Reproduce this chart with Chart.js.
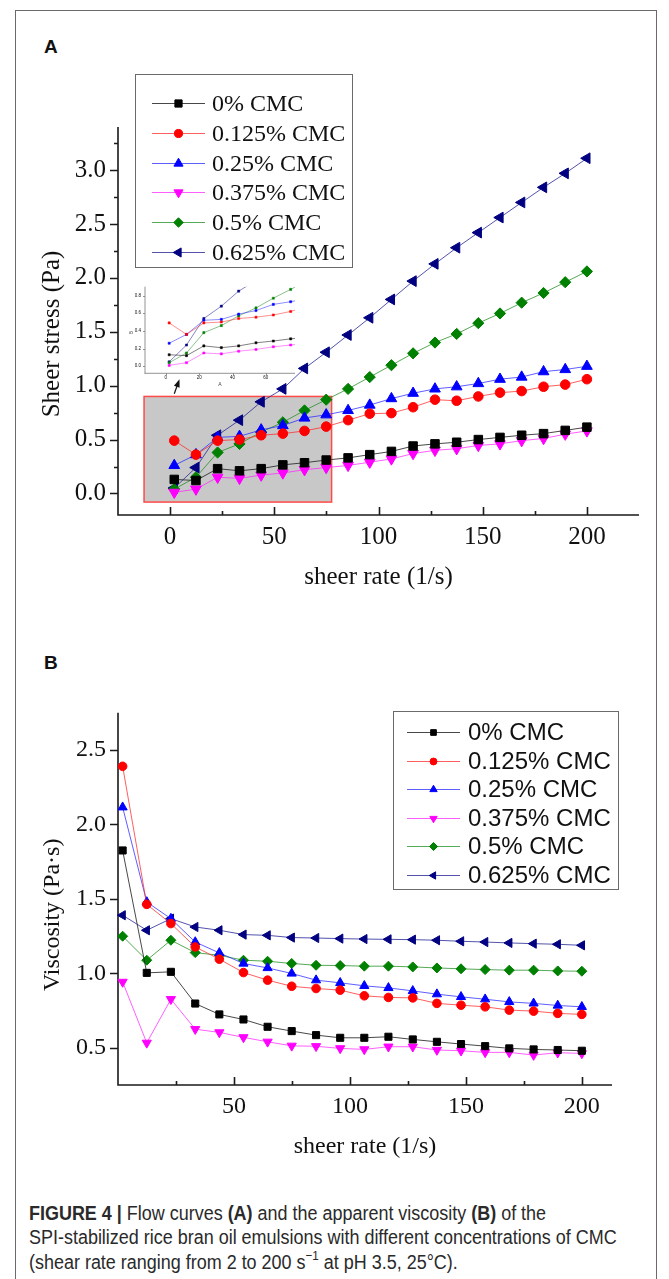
<!DOCTYPE html>
<html>
<head>
<meta charset="utf-8">
<title>Flow curves and apparent viscosity</title>
<script src="https://cdn.jsdelivr.net/npm/chart.js@4.4.1/dist/chart.umd.min.js"></script>
<style>
  html, body { margin: 0; padding: 0; background: #fff; }
  body { width: 669px; height: 1279px; position: relative; overflow: hidden; }
  #frame { position: absolute; left: 15px; top: 10px; width: 642px; height: 1300px;
           border: 1.5px solid #6a6a6a; box-sizing: border-box; }
  canvas { position: absolute; }
  .panel { position: absolute; font: bold 19px "Liberation Sans", Arial, sans-serif; color: #111; line-height: 22px; }
  .cap { position: absolute; left: 29px; white-space: nowrap; color: #2a2a2a;
         font: 20px "Liberation Sans", Arial, sans-serif; line-height: 24px;
         transform-origin: 0 50%; transform: scaleX(0.898); }
  .cap sup { font-size: 13px; line-height: 0; position: relative; top: -1px; }
</style>
</head>
<body>
<div id="frame"></div>
<div class="panel" style="left:44px;top:36px">A</div>
<div class="panel" style="left:44px;top:652px">B</div>
<canvas id="flow" width="669" height="620" style="left:0;top:0"></canvas>
<canvas id="flowZoom" width="175" height="115" style="left:125px;top:280px"></canvas>
<canvas id="visc" width="669" height="560" style="left:0;top:620px"></canvas>
<div class="cap" style="top:1201px"><b>FIGURE 4 |</b> Flow curves <b>(A)</b> and the apparent viscosity <b>(B)</b> of the</div>
<div class="cap" style="top:1225px">SPI-stabilized rice bran oil emulsions with different concentrations of CMC</div>
<div class="cap" style="top:1250px">(shear rate ranging from 2 to 200 s<sup>−1</sup> at pH 3.5, 25°C).</div>

<script>
// ---- measured data -------------------------------------------------------
const shearRate = [2, 12.4, 22.8, 33.3, 43.7, 54.1, 64.5, 74.9, 85.4, 95.8,
                   106.2, 116.6, 127.1, 137.5, 147.9, 158.3, 168.7, 179.2, 189.6, 200];
const cmcLabels = ['0% CMC', '0.125% CMC', '0.25% CMC', '0.375% CMC', '0.5% CMC', '0.625% CMC'];

// shear stress (Pa)
const stressCmc0    = [0.13, 0.12, 0.23, 0.21, 0.23, 0.265, 0.285, 0.31, 0.33, 0.36, 0.39, 0.44, 0.46, 0.475, 0.50, 0.52, 0.54, 0.555, 0.585, 0.615];
const stressCmc0125 = [0.49, 0.36, 0.49, 0.50, 0.54, 0.555, 0.58, 0.62, 0.68, 0.74, 0.745, 0.80, 0.87, 0.86, 0.90, 0.935, 0.95, 0.99, 1.01, 1.06];
const stressCmc025  = [0.26, 0.36, 0.52, 0.53, 0.59, 0.63, 0.70, 0.73, 0.77, 0.82, 0.88, 0.93, 0.97, 0.99, 1.02, 1.06, 1.08, 1.13, 1.15, 1.18];
const stressCmc0375 = [0.01, 0.04, 0.15, 0.14, 0.17, 0.19, 0.22, 0.24, 0.26, 0.29, 0.32, 0.37, 0.40, 0.415, 0.445, 0.46, 0.49, 0.51, 0.55, 0.58];
const stressCmc05   = [0.04, 0.15, 0.38, 0.46, 0.57, 0.66, 0.77, 0.87, 0.97, 1.08, 1.19, 1.30, 1.40, 1.48, 1.58, 1.67, 1.77, 1.86, 1.96, 2.06];
const stressCmc0625 = [0.05, 0.24, 0.54, 0.68, 0.85, 0.97, 1.16, 1.31, 1.47, 1.63, 1.80, 1.97, 2.13, 2.28, 2.42, 2.56, 2.70, 2.84, 2.97, 3.11];

// apparent viscosity (Pa·s)
const viscCmc0    = [1.825, 1.003, 1.01, 0.797, 0.724, 0.69, 0.641, 0.612, 0.585, 0.567, 0.567, 0.574, 0.556, 0.54, 0.525, 0.511, 0.496, 0.489, 0.485, 0.48];
const viscCmc0125 = [2.39, 1.463, 1.334, 1.177, 1.095, 1.005, 0.954, 0.913, 0.898, 0.887, 0.849, 0.838, 0.835, 0.798, 0.786, 0.775, 0.753, 0.746, 0.731, 0.724];
const viscCmc025  = [2.115, 1.479, 1.367, 1.21, 1.137, 1.066, 1.036, 0.999, 0.954, 0.936, 0.916, 0.902, 0.882, 0.86, 0.842, 0.826, 0.808, 0.798, 0.784, 0.775];
const viscCmc0375 = [0.942, 0.533, 0.826, 0.625, 0.603, 0.57, 0.54, 0.513, 0.51, 0.496, 0.489, 0.507, 0.507, 0.485, 0.48, 0.469, 0.469, 0.451, 0.467, 0.462];
const viscCmc05   = [1.249, 1.088, 1.222, 1.139, 1.121, 1.088, 1.081, 1.066, 1.054, 1.052, 1.048, 1.048, 1.043, 1.036, 1.03, 1.025, 1.021, 1.021, 1.016, 1.014];
const viscCmc0625 = [1.39, 1.289, 1.367, 1.311, 1.289, 1.26, 1.255, 1.24, 1.237, 1.233, 1.23, 1.228, 1.226, 1.222, 1.215, 1.21, 1.204, 1.199, 1.195, 1.188];

// ---- axes ----------------------------------------------------------------
const rateTicksA   = [0, 50, 100, 150, 200];
const rateMinorA   = [25, 75, 125, 175];
const stressTicks  = [0, 0.5, 1.0, 1.5, 2.0, 2.5, 3.0];
const stressMinor  = [0.25, 0.75, 1.25, 1.75, 2.25, 2.75, 3.25];
const rateTicksB   = [50, 100, 150, 200];
const rateMinorB   = [25, 75, 125, 175];
const viscTicks    = [0.5, 1.0, 1.5, 2.0, 2.5];
const zoomRateTicks   = [0, 20, 40, 60];
const zoomStressTicks = [0, 0.2, 0.4, 0.6, 0.8];
// window of the low-shear region that is enlarged in the inset
const zoomX = [-12.5, 77.5];
const zoomY = [-0.08, 0.9];

// ---- series styles -------------------------------------------------------
const seriesStyle = [
  { color: '#000000', line: 'rgba(40,40,40,0.85)',  shape: 'rect',     rot: 0,   rA: 6.0, rB: 5.0 },
  { color: '#ff0000', line: 'rgba(255,40,40,0.75)', shape: 'circle',   rot: 0,   rA: 4.8, rB: 4.3 },
  { color: '#0000ff', line: 'rgba(40,40,255,0.75)', shape: 'triangle', rot: 0,   rA: 6.2, rB: 5.3 },
  { color: '#ff00ff', line: 'rgba(255,40,255,0.75)',shape: 'triangle', rot: 180, rA: 6.2, rB: 5.3 },
  { color: '#008000', line: 'rgba(30,140,30,0.75)', shape: 'rectRot',  rot: 0,   rA: 5.6, rB: 5.0 },
  { color: '#000080', line: 'rgba(40,40,150,0.8)',  shape: 'triangle', rot: -90, rA: 6.2, rB: 5.3 }
];

function makeSet(i, values, radius, opts) {
  const s = seriesStyle[i];
  return Object.assign({
    label: cmcLabels[i],
    data: shearRate.map((x, k) => ({ x: x, y: values[k] })),
    borderColor: s.line,
    borderWidth: 1,
    pointBackgroundColor: s.color,
    pointBorderColor: s.color,
    pointBorderWidth: 1,
    pointStyle: s.shape,
    pointRotation: s.rot,
    pointRadius: radius,
    tension: 0,
    fill: false
  }, opts || {});
}

const stressSets = [stressCmc0, stressCmc0125, stressCmc025, stressCmc0375, stressCmc05, stressCmc0625];
const viscSets   = [viscCmc0, viscCmc0125, viscCmc025, viscCmc0375, viscCmc05, viscCmc0625];

// ---- plugins -------------------------------------------------------------
// axis lines with major/minor tick marks (x ticks point into the plot, y ticks outwards)
const axisFrame = {
  id: 'axisFrame',
  beforeDatasetsDraw(chart, args, o) {
    const { ctx, scales: { x, y } } = chart;
    const xb = y.bottom, yl = x.left;
    ctx.save();
    ctx.strokeStyle = o.color;
    ctx.lineWidth = o.width;
    ctx.beginPath();
    ctx.moveTo(x.left - o.width / 2, xb); ctx.lineTo(x.right, xb);
    ctx.moveTo(yl, y.top); ctx.lineTo(yl, xb + o.width / 2);
    const tick = (list, len, horiz) => (list || []).forEach(v => {
      if (horiz) {
        const p = Math.round(x.getPixelForValue(v)) + 0.5;
        ctx.moveTo(p, xb); ctx.lineTo(p, xb + o.xDir * len);
      } else {
        const p = Math.round(y.getPixelForValue(v)) + 0.5;
        ctx.moveTo(yl, p); ctx.lineTo(yl - len, p);
      }
    });
    tick(o.xMajor, o.major, true);
    tick(o.xMinor, o.minor, true);
    tick(o.yMajor, o.major, false);
    tick(o.yMinor, o.minor, false);
    ctx.stroke();
    ctx.restore();
  }
};

const axisTitles = {
  id: 'axisTitles',
  afterDraw(chart, args, o) {
    const { ctx, chartArea: a } = chart;
    ctx.save();
    ctx.fillStyle = o.color;
    ctx.font = o.font;
    ctx.textAlign = 'center';
    ctx.textBaseline = 'middle';
    ctx.fillText(o.xText, (a.left + a.right) / 2, a.bottom + o.xDy);
    ctx.translate(a.left - o.yDx, (a.top + a.bottom) / 2 + o.yDy);
    ctx.rotate(-Math.PI / 2);
    ctx.fillText(o.yText, 0, 0);
    ctx.restore();
  }
};

// boxed key: line segment + marker + label for every dataset
const seriesKey = {
  id: 'seriesKey',
  afterDraw(chart, args, o) {
    const ctx = chart.ctx;
    const b = o.box;
    ctx.save();
    ctx.strokeStyle = o.frameColor;
    ctx.lineWidth = 1;
    ctx.strokeRect(Math.round(b[0]) + 0.5, Math.round(b[1]) + 0.5, Math.round(b[2] - b[0]), Math.round(b[3] - b[1]));
    ctx.font = o.font;
    ctx.textBaseline = 'middle';
    ctx.textAlign = 'left';
    chart.data.datasets.forEach((ds, i) => {
      const yy = Math.round(o.rowY + i * o.rowGap) + 0.5;
      ctx.strokeStyle = ds.borderColor;
      ctx.lineWidth = 1;
      ctx.beginPath();
      ctx.moveTo(o.lineX[0], yy); ctx.lineTo(o.lineX[1], yy);
      ctx.stroke();
      ctx.fillStyle = ds.pointBackgroundColor;
      ctx.strokeStyle = ds.pointBorderColor;
      Chart.helpers.drawPoint(ctx, {
        pointStyle: ds.pointStyle, rotation: ds.pointRotation || 0,
        radius: ds.pointRadius * o.markerScale, borderWidth: 1
      }, (o.lineX[0] + o.lineX[1]) / 2, yy);
      ctx.fillStyle = o.textColor;
      ctx.fillText(ds.label, o.textX, yy + o.textDy);
    });
    ctx.restore();
  }
};

// shaded low-shear window and the arrow that points to the enlarged inset
const zoomWindow = {
  id: 'zoomWindow',
  beforeDatasetsDraw(chart, args, o) {
    const { ctx, scales: { x, y } } = chart;
    const l = x.getPixelForValue(o.xRange[0]), r = x.getPixelForValue(o.xRange[1]);
    const t = y.getPixelForValue(o.yRange[1]), btm = y.getPixelForValue(o.yRange[0]);
    ctx.save();
    ctx.fillStyle = o.fill;
    ctx.fillRect(l, t, r - l, btm - t);
    ctx.strokeStyle = o.stroke;
    ctx.lineWidth = 1.5;
    ctx.strokeRect(l, t, r - l, btm - t);
    ctx.restore();
  },
  afterDatasetsDraw(chart, args, o) {
    const { ctx, scales: { x, y } } = chart;
    const x0 = x.getPixelForValue(o.arrowFrom[0]), y0 = y.getPixelForValue(o.arrowFrom[1]);
    const x1 = x.getPixelForValue(o.arrowTo[0]),   y1 = y.getPixelForValue(o.arrowTo[1]);
    const ang = Math.atan2(y1 - y0, x1 - x0);
    const head = 8, half = 3;
    ctx.save();
    ctx.strokeStyle = '#111';
    ctx.fillStyle = '#111';
    ctx.lineWidth = 1.2;
    ctx.beginPath();
    ctx.moveTo(x0, y0);
    ctx.lineTo(x1 - Math.cos(ang) * head * 0.8, y1 - Math.sin(ang) * head * 0.8);
    ctx.stroke();
    ctx.beginPath();
    ctx.moveTo(x1, y1);
    ctx.lineTo(x1 - Math.cos(ang) * head + Math.sin(ang) * half, y1 - Math.sin(ang) * head - Math.cos(ang) * half);
    ctx.lineTo(x1 - Math.cos(ang) * head - Math.sin(ang) * half, y1 - Math.sin(ang) * head + Math.cos(ang) * half);
    ctx.closePath();
    ctx.fill();
    ctx.restore();
  }
};

// ---- shared option helpers -----------------------------------------------
const serif = size => ({ family: '"Liberation Serif", "Times New Roman", serif', size: size });
const setTicks = list => (s => { s.ticks = list.map(v => ({ value: v })); });

function linearAxis(min, max, list, fmt, font, padding, fit) {
  return {
    type: 'linear', min: min, max: max,
    afterBuildTicks: setTicks(list),
    afterFit: fit,
    grid: { display: false, drawTicks: false },
    border: { display: false },
    ticks: { font: font, color: '#111', padding: padding, maxRotation: 0, autoSkip: false,
             callback: fmt }
  };
}
const fmtInt = v => String(v);
const fmtOne = v => v.toFixed(1);

Chart.defaults.animation = false;
Chart.defaults.responsive = false;
Chart.defaults.devicePixelRatio = 1;
Chart.defaults.events = [];

// ---- panel A: flow curves --------------------------------------------------
new Chart(document.getElementById('flow'), {
  type: 'line',
  data: { datasets: stressSets.map((v, i) => makeSet(i, v, seriesStyle[i].rA)) },
  options: {
    layout: { padding: { left: 0, right: 30, top: 127, bottom: 25 } },
    scales: {
      x: linearAxis(-25, 225, rateTicksA, fmtInt, serif(25), 7, s => { s.height = 80; }),
      y: linearAxis(-0.2, 3.4, stressTicks, fmtOne, serif(25), 12, s => { s.width = 118; })
    },
    plugins: {
      legend: { display: false },
      tooltip: { enabled: false },
      axisFrame: { color: '#1a1a1a', width: 1.6, major: 8, minor: 4, xDir: -1,
                   xMajor: rateTicksA, xMinor: rateMinorA, yMajor: stressTicks, yMinor: stressMinor },
      axisTitles: { color: '#111', font: '25px "Liberation Serif", "Times New Roman", serif',
                    xText: 'sheer rate (1/s)', xDy: 62, yText: 'Sheer stress (Pa)', yDx: 66, yDy: 13 },
      seriesKey: { box: [135, 74, 352, 267], rowY: 103, rowGap: 29.8, lineX: [152, 205], textX: 212,
                   textDy: 1, font: '24px "Liberation Serif", "Times New Roman", serif',
                   frameColor: '#6a6a6a', textColor: '#111', markerScale: 0.85 },
      zoomWindow: { xRange: zoomX, yRange: zoomY, fill: '#c8c8c8', stroke: '#ff4a4a',
                    arrowFrom: [2.0, 0.925], arrowTo: [4.5, 1.06] }
    }
  },
  plugins: [zoomWindow, axisFrame, axisTitles, seriesKey]
});

// ---- inset: enlarged low-shear window --------------------------------------
new Chart(document.getElementById('flowZoom'), {
  type: 'line',
  data: { datasets: stressSets.map((v, i) => makeSet(i, v, 1.5, {
    pointStyle: 'rect', pointRotation: 0, borderWidth: 0.7, pointBorderWidth: 0.5, clip: 0
  })) },
  options: {
    layout: { padding: { left: 0, right: 5, top: 5, bottom: 0 } },
    scales: {
      x: linearAxis(zoomX[0], zoomX[1], zoomRateTicks, fmtInt,
                    { family: '"Liberation Sans", Arial, sans-serif', size: 4.5 }, 2, s => { s.height = 21.7; }),
      y: linearAxis(zoomY[0], zoomY[1], zoomStressTicks, fmtOne,
                    { family: '"Liberation Sans", Arial, sans-serif', size: 4.5 }, 4, s => { s.width = 20; })
    },
    plugins: {
      legend: { display: false },
      tooltip: { enabled: false },
      axisFrame: { color: '#777', width: 0.8, major: 2, minor: 1, xDir: 1,
                   xMajor: zoomRateTicks, yMajor: zoomStressTicks },
      axisTitles: { color: '#444', font: '5px "Liberation Sans", Arial, sans-serif',
                    xText: 'A', xDy: 11.7, yText: 'B', yDx: 13.3, yDy: 2.5 }
    }
  },
  plugins: [axisFrame, axisTitles]
});

// ---- panel B: apparent viscosity -------------------------------------------
new Chart(document.getElementById('visc'), {
  type: 'line',
  data: { datasets: viscSets.map((v, i) => makeSet(i, v, seriesStyle[i].rB, { clip: false })) },
  options: {
    layout: { padding: { left: 0, right: 57, top: 92.7, bottom: 15 } },
    scales: {
      x: linearAxis(0, 213, rateTicksB, fmtInt, serif(24), 7, s => { s.height = 80; }),
      y: linearAxis(0.25, 2.75, viscTicks, fmtOne, serif(24), 12, s => { s.width = 118; })
    },
    plugins: {
      legend: { display: false },
      tooltip: { enabled: false },
      axisFrame: { color: '#1a1a1a', width: 1.6, major: 8, minor: 4, xDir: -1,
                   xMajor: rateTicksB, xMinor: rateMinorB, yMajor: viscTicks },
      axisTitles: { color: '#111', font: '24px "Liberation Serif", "Times New Roman", serif',
                    xText: 'sheer rate (1/s)', xDy: 62, yText: 'Viscosity (Pa·s)', yDx: 65, yDy: 16 },
      seriesKey: { box: [393, 91, 618, 269], rowY: 112.3, rowGap: 28.5, lineX: [407, 460], textX: 468,
                   textDy: 1, font: '24px "Liberation Sans", Arial, sans-serif',
                   frameColor: '#6a6a6a', textColor: '#111', markerScale: 0.8 }
    }
  },
  plugins: [axisFrame, axisTitles, seriesKey]
});
</script>
</body>
</html>
